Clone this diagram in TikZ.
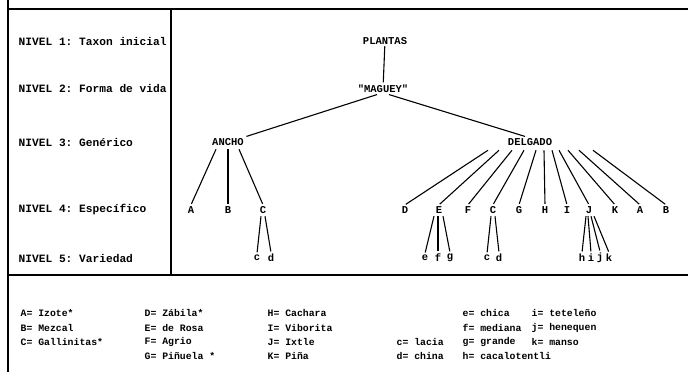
\documentclass[tikz,border=0pt]{standalone}
\usepackage{fontspec}
\setmonofont{Liberation Mono}
\usetikzlibrary{calc}
\begin{document}
\begin{tikzpicture}[x=1pt,y=-1pt,
  frame/.style={line width=1.1pt},
  edge/.style={line width=1.1pt, shorten >=1pt},
  lbl/.style={font=\ttfamily\bfseries\fontsize{10.5}{12}\selectfont, inner sep=1.5pt},
  lvl/.style={lbl, anchor=west, font=\ttfamily\bfseries\fontsize{11.2}{13}\selectfont},
  leg/.style={lbl, anchor=west, font=\ttfamily\bfseries\fontsize{9.8}{12}\selectfont}]
\useasboundingbox (0,0) rectangle (688,372);
% frame
\draw[frame] (8,0) -- (8,372);
\draw[frame] (8,9) -- (688,9);
\draw[frame] (171,9) -- (171,275);
\draw[frame] (8,275) -- (688,275);
% level labels
\node[lvl] (n1) at (17,41) {NIVEL 1: Taxon inicial};
\node[lvl] (n2) at (17,88) {NIVEL 2: Forma de vida};
\node[lvl] (n3) at (17,143) {NIVEL 3: Genérico};
\node[lvl] (n4) at (17,210) {NIVEL 4: Específico};
\node[lvl] (n5) at (17,258) {NIVEL 5: Variedad};
% tree
\node[lbl] (plantas) at (385,41) {PLANTAS};
\node[lbl] (maguey) at (383,89) {"MAGUEY"};
\node[lbl] (ancho) at (228,142) {ANCHO};
\node[lbl] (delgado) at (530,142) {DELGADO};
% level 4 under ANCHO
\node[lbl] (aA) at (191,210) {A};
\node[lbl] (aB) at (228,210) {B};
\node[lbl] (aC) at (263,210) {C};
% level 4 under DELGADO
\node[lbl] (dD) at (405,210) {D};
\node[lbl] (dE) at (439,210) {E};
\node[lbl] (dF) at (468,210) {F};
\node[lbl] (dC) at (493,210) {C};
\node[lbl] (dG) at (519,210) {G};
\node[lbl] (dH) at (545,210) {H};
\node[lbl] (dI) at (567,210) {I};
\node[lbl] (dJ) at (589,210) {J};
\node[lbl] (dK) at (615,210) {K};
\node[lbl] (dA) at (640,210) {A};
\node[lbl] (dB) at (666,210) {B};
% level 5
\node[lbl] (ac) at (257,258) {c};
\node[lbl] (ad) at (271,258) {d};
\node[lbl] (ee) at (425,258) {e};
\node[lbl] (ef) at (438,258) {f};
\node[lbl] (eg) at (450,258) {g};
\node[lbl] (cc) at (487,258) {c};
\node[lbl] (cd) at (499,258) {d};
\node[lbl] (jh) at (582,258) {h};
\node[lbl] (ji) at (591,258) {i};
\node[lbl] (jj) at (600,258) {j};
\node[lbl] (jk) at (609,258) {k};
% edges
\draw[edge] (plantas) -- (maguey);
\draw[edge] ($(maguey.south)+(-6,0)$) -- (ancho.north east);
\draw[edge] ($(maguey.south)+(6,0)$) -- ($(delgado.north)+(-4,0)$);
\draw[edge] ($(ancho.south)+(-12,2)$) -- (aA.north);
\draw[edge] ($(ancho.south)+(0,2)$) -- (aB.north);
\draw[edge] ($(ancho.south)+(11,2)$) -- (aC.north);
\draw[edge] ($(delgado.south)+(-42,3)$) -- (dD.north);
\draw[edge] ($(delgado.south)+(-31,3)$) -- (dE.north);
\draw[edge] ($(delgado.south)+(-18,3)$) -- (dF.north);
\draw[edge] ($(delgado.south)+(-6,3)$) -- (dC.north);
\draw[edge] ($(delgado.south)+(6,3)$) -- (dG.north);
\draw[edge] ($(delgado.south)+(14,3)$) -- (dH.north);
\draw[edge] ($(delgado.south)+(22,3)$) -- (dI.north);
\draw[edge] ($(delgado.south)+(29,3)$) -- (dJ.north);
\draw[edge] ($(delgado.south)+(38,3)$) -- (dK.north);
\draw[edge] ($(delgado.south)+(49,3)$) -- (dA.north);
\draw[edge] ($(delgado.south)+(63,3)$) -- (dB.north);
\draw[edge] ($(aC.south)+(-2,1)$) -- (ac.north);
\draw[edge] ($(aC.south)+(2,1)$) -- (ad.north);
\draw[edge] ($(dE.south)+(-5,1)$) -- (ee.north);
\draw[edge] ($(dE.south)+(-1,1)$) -- (ef.north);
\draw[edge] ($(dE.south)+(4,1)$) -- (eg.north);
\draw[edge] ($(dC.south)+(-2,1)$) -- (cc.north);
\draw[edge] ($(dC.south)+(2,1)$) -- (cd.north);
\draw[edge] ($(dJ.south)+(-3,1)$) -- (jh.north);
\draw[edge] ($(dJ.south)+(-1,1)$) -- (ji.north);
\draw[edge] ($(dJ.south)+(2,1)$) -- (jj.north);
\draw[edge] ($(dJ.south)+(5,1)$) -- (jk.north);
% legend
\node[leg] (lA) at (19,313) {A= Izote*};
\node[leg] (lB) at (19,328) {B= Mezcal};
\node[leg] (lC) at (19,342) {C= Gallinitas*};
\node[leg] (lD) at (143,313) {D= Zábila*};
\node[leg] (lE) at (143,328) {E= de Rosa};
\node[leg] (lF) at (143,342) {F= Agrio};
\node[leg] (lG) at (143,356) {G= Piñuela *};
\node[leg] (lH) at (266,313) {H= Cachara};
\node[leg] (lI) at (266,328) {I= Viborita};
\node[leg] (lJ) at (266,342) {J= Ixtle};
\node[leg] (lK) at (266,356) {K= Piña};
\node[leg] (lc) at (395,342) {c= lacia};
\node[leg] (ld) at (395,356) {d= china};
\node[leg] (le) at (461,313) {e= chica};
\node[leg] (lf) at (461,328) {f= mediana};
\node[leg] (lg) at (461,342) {g= grande};
\node[leg] (lh) at (461,356) {h= cacalotentli};
\node[leg] (li) at (530,313) {i= teteleño};
\node[leg] (lj) at (530,328) {j= henequen};
\node[leg] (lk) at (530,342) {k= manso};
\end{tikzpicture}
\end{document}
